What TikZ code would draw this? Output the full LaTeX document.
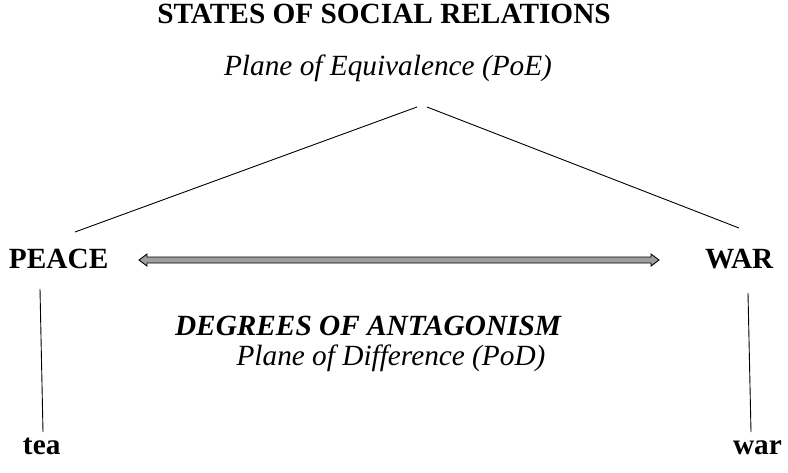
\documentclass[tikz,border=0pt]{standalone}
\usepackage{fontspec}
\setmainfont{Liberation Serif}
\usetikzlibrary{calc}
\begin{document}
\begin{tikzpicture}[x=1pt,y=-1pt,
  txt/.style={inner sep=0pt,outer sep=0pt,font=\fontsize{29.3}{35}\selectfont},
  bold/.style={txt,font=\fontsize{29.3}{35}\selectfont\bfseries},
  ital/.style={txt,font=\fontsize{29.3}{35}\selectfont\itshape},
  boldital/.style={txt,font=\fontsize{29.3}{35}\selectfont\bfseries\itshape},
  conn/.style={draw=black,line width=0.9pt},
  bigarrow/.style={draw=black,line width=0.9pt,fill=gray!75,line join=miter}]
\useasboundingbox (0,0) rectangle (788,472);
% texts
\node[bold,anchor=base] (title) at (384,23) {STATES OF SOCIAL RELATIONS};
\node[ital,anchor=base] (poe) at (388,75) {Plane of Equivalence (PoE)};
\node[bold,anchor=base west] (peace) at (9,268) {PEACE};
\node[bold,anchor=base west] (war) at (705,268) {WAR};
\node[boldital,anchor=base] (deg) at (368,335) {DEGREES OF ANTAGONISM};
\node[ital,anchor=base] (pod) at (391,365) {Plane of Difference (PoD)};
\node[bold,anchor=base west] (tea) at (23,454) {tea};
\node[bold,anchor=base west] (warl) at (733,454) {war};
% line end points
\coordinate (apL) at (417,107);
\coordinate (apR) at (427,107);
\coordinate (pTop) at (75,232);
\coordinate (wTop) at (739,228);
\coordinate (lvT) at (40,289);
\coordinate (lvB) at (43,432);
\coordinate (rvT) at (748,293);
\coordinate (rvB) at (751,432);
\coordinate (aL) at (139,260);
\coordinate (aR) at (659,260);
% connectors
\draw[conn] (pTop) -- (apL);
\draw[conn] (apR) -- (wTop);
\draw[conn] (lvT) -- (lvB);
\draw[conn] (rvT) -- (rvB);
% double arrow
\draw[bigarrow] (aL) -- ($(aL)+(8,-6)$) -- ($(aL)+(8,-3)$) -- ($(aR)+(-8,-3)$) -- ($(aR)+(-8,-6)$) -- (aR)
  -- ($(aR)+(-8,6)$) -- ($(aR)+(-8,3)$) -- ($(aL)+(8,3)$) -- ($(aL)+(8,6)$) -- cycle;
\end{tikzpicture}
\end{document}
